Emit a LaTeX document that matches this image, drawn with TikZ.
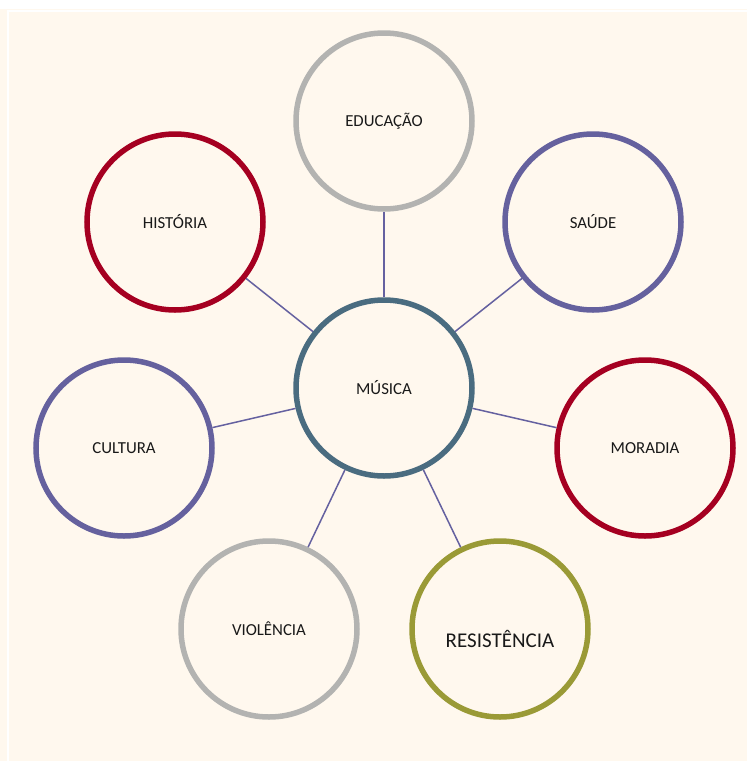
\documentclass[tikz,border=0pt]{standalone}
\usepackage{fontspec}
\setmainfont{Carlito}
\definecolor{paper}{HTML}{FFF8EE}
\definecolor{greyring}{HTML}{B3B3B1}
\definecolor{redring}{HTML}{A50021}
\definecolor{blueing}{HTML}{65619E}
\definecolor{tealring}{HTML}{4A6C80}
\definecolor{oliveing}{HTML}{9A9A36}
\definecolor{linkcol}{HTML}{6561A0}
\tikzset{
  ring/.style={draw,circle,line width=5.5pt,minimum size=176pt,inner sep=0pt,
    text=black!90,font=\fontsize{16.8}{20}\selectfont},
  link/.style={draw=linkcol,line width=1.5pt}
}

\begin{document}
\begin{tikzpicture}[x=1pt,y=-1pt]
   % page and frame
   \useasboundingbox (0,0) rectangle (747,761);
   \fill[white] (0,0) rectangle (747,761);
   \fill[paper] (0,9) rectangle (747,761);
   \draw[white,line width=1.5pt] (8,761) -- (8,11) -- (747,11);
   % circles
   \node[ring,draw=tealring] (mus) at (384,388) {MÚSICA};
   \node[ring,draw=greyring] (edu) at (384,121) {EDUCAÇÃO};
   \node[ring,draw=redring] (his) at (175,222) {HISTÓRIA};
   \node[ring,draw=blueing] (sau) at (593,222) {SAÚDE};
   \node[ring,draw=blueing] (cul) at (124,448) {CULTURA};
   \node[ring,draw=redring] (mor) at (645,448) {MORADIA};
   \node[ring,draw=greyring] (vio) at (269,629) {VIOLÊNCIA};
   \node[ring,draw=oliveing,font=\fontsize{21}{25}\selectfont] (res) at (500,629)
      {\raisebox{-18pt}[0pt][0pt]{RESISTÊNCIA}};
   % spokes
   \foreach \n in {edu,his,sau,cul,mor,vio,res}
      \draw[link] (mus) -- (\n);
\end{tikzpicture}
\end{document}
